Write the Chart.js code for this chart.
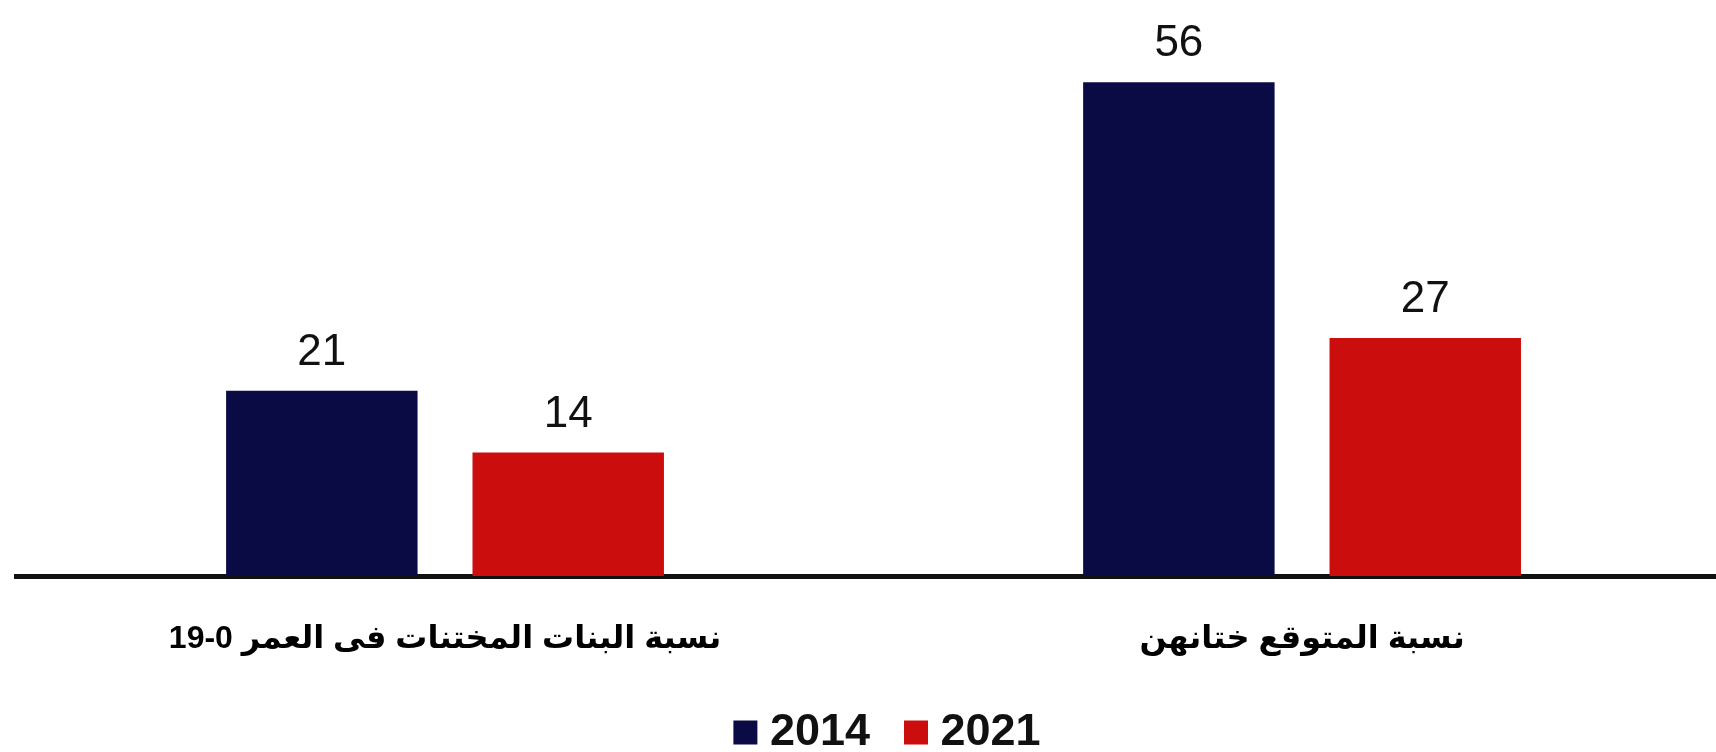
<!DOCTYPE html>
<html>
<head>
<meta charset="utf-8">
<script src="https://cdn.jsdelivr.net/npm/chart.js@4/dist/chart.umd.min.js"></script>
<style>
  html, body { margin: 0; padding: 0; background: #ffffff; overflow: hidden; }
  #wrap { width: 1716px; height: 752px; }
</style>
</head>
<body>
<div id="wrap"><canvas id="c" width="1716" height="752"></canvas></div>
<script>
const categories = ["نسبة البنات المختنات فى العمر 0-19", "نسبة المتوقع ختانهن"];
const seriesNames = ["2014", "2021"];
const values2014 = [21, 56];
const values2021 = [14, 27];

const toPoints = (arr) => arr.map((v, i) => ({ x: i, y: v }));

const valueLabels = {
  id: 'valueLabels',
  afterDatasetsDraw(chart) {
    const ctx = chart.ctx;
    ctx.save();
    ctx.font = '400 44px "Liberation Sans", "DejaVu Sans", sans-serif';
    ctx.fillStyle = '#111111';
    ctx.textAlign = 'center';
    ctx.textBaseline = 'alphabetic';
    chart.data.datasets.forEach((ds, i) => {
      const meta = chart.getDatasetMeta(i);
      meta.data.forEach((bar, j) => {
        const v = meta.controller.getParsed(j).y;
        ctx.fillText(String(v), bar.x, bar.y - 26);
      });
    });
    ctx.restore();
  }
};

const legendShift = {
  id: 'legendShift',
  afterLayout(chart) {
    const lg = chart.legend;
    if (lg) {
      lg.top += 13; lg.bottom += 13;
      lg.left += 26; lg.right += 26;
    }
    const sx = chart.scales.x;
    if (sx) { sx.bottom += 30; }
  }
};

new Chart(document.getElementById('c'), {
  type: 'bar',
  data: {
    datasets: [
      { label: seriesNames[0], data: toPoints(values2014), backgroundColor: '#0a0b44', borderWidth: 0 },
      { label: seriesNames[1], data: toPoints(values2021), backgroundColor: '#cc0d0d', borderWidth: 0 }
    ]
  },
  options: {
    responsive: false,
    animation: false,
    devicePixelRatio: 1,
    categoryPercentage: 0.575,
    barPercentage: 0.777,
    layout: { padding: { top: 47, left: 16, right: 0, bottom: 0 } },
    plugins: {
      tooltip: { enabled: false },
      legend: {
        position: 'bottom',
        labels: {
          usePointStyle: true,
          pointStyle: 'rect',
          boxWidth: 4,
          boxHeight: 24,
          padding: 44,
          color: '#111111',
          font: { family: '"Liberation Sans", "DejaVu Sans", sans-serif', size: 45, weight: 'bold' }
        }
      }
    },
    scales: {
      y: { display: false, min: 0, max: 60 },
      x: {
        type: 'linear',
        offset: false,
        min: -0.5006,
        max: 1.483,
        grid: { display: false },
        border: { display: true, color: '#111111', width: 5 },
        ticks: {
          stepSize: 1,
          includeBounds: false,
          autoSkip: false,
          maxRotation: 0,
          color: '#000000',
          padding: 36,
          font: { family: '"Liberation Sans", "DejaVu Sans", sans-serif', size: 32, weight: 'bold' },
          callback: (v) => (Number.isInteger(v) && categories[v] !== undefined) ? categories[v] : ''
        },
        afterFit(scale) { scale.height = 77; }
      }
    }
  },
  plugins: [valueLabels, legendShift]
});
</script>
</body>
</html>
